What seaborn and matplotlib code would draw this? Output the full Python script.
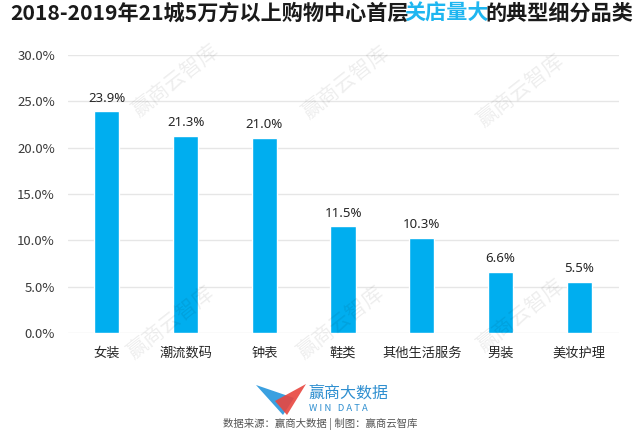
import matplotlib
matplotlib.use("Agg")
import matplotlib.pyplot as plt
import seaborn as sns
import pandas as pd
from matplotlib.patches import Polygon

categories = ["女装", "潮流数码", "钟表", "鞋类", "其他生活服务", "男装", "美妆护理"]
values = [23.9, 21.3, 21.0, 11.5, 10.3, 6.6, 5.5]
yticks = [0, 5, 10, 15, 20, 25, 30]
ytick_labels = ["0.0%", "5.0%", "10.0%", "15.0%", "20.0%", "25.0%", "30.0%"]
title_parts = ["2018-2019年21城5万方以上购物中心首层", "关店量大", "的典型细分品类"]
source_text = "数据来源：赢商大数据 | 制图：赢商云智库"

sns.set_theme(style="white")
plt.rcParams["font.family"] = ["Noto Sans CJK SC", "DejaVu Sans"]

BLUE = "#00AEEF"
df = pd.DataFrame({"cat": categories, "val": values})

fig = plt.figure(figsize=(6.4, 4.36), dpi=100)
ax = fig.add_axes([0.1055, 0.236, 0.861, 0.638])
sns.barplot(data=df, x="cat", y="val", color=BLUE, saturation=1, width=0.32, ax=ax, zorder=3)

ax.set_ylim(0, 30)
ax.set_yticks(yticks)
ax.set_yticklabels(ytick_labels, fontsize=9.5, color="#3a3a3a")
ax.tick_params(axis="y", length=0, pad=9)
ax.tick_params(axis="x", length=0, pad=10, labelsize=9.5, labelcolor="#262626")
ax.set_xlabel("")
ax.set_ylabel("")
ax.grid(axis="y", color="#E6E6E6", linewidth=1, zorder=0)
ax.set_axisbelow(True)
for s in ax.spines.values():
    s.set_visible(False)

for i, v in enumerate(values):
    ax.annotate(f"{v:.1f}%", (i, v), xytext=(0, 5), textcoords="offset points",
                ha="center", va="bottom", fontsize=9.5, color="#262626", zorder=5,
                family=["Noto Sans", "DejaVu Sans"])

# watermarks
for (x, y) in [(175, 80), (345, 82), (520, 90), (170, 322), (340, 322), (520, 315)]:
    fig.text(x / 640, 1 - y / 436, "赢商云智库", rotation=38, ha="center", va="center",
             fontsize=15, color="#000000", alpha=0.07, zorder=10)

# title with coloured part
fig.canvas.draw()
renderer = fig.canvas.get_renderer()
colors = ["#1a1a1a", "#1FB6F0", "#1a1a1a"]
texts = []
for part, c in zip(title_parts, colors):
    t = fig.text(0, 1 - 13 / 436, part, fontsize=15.2, fontweight="bold", color=c,
                 ha="left", va="center")
    texts.append(t)
widths = [t.get_window_extent(renderer).width - 3.5 for t in texts]
total = sum(widths)
x0 = (640 - total) / 2
for t, w in zip(texts, widths):
    t.set_x(x0 / 640)
    x0 += w

# logo
H = 436
def fy(y):
    return 1 - y / H
blue_tri = Polygon([(256 / 640, fy(385)), (294 / 640, fy(398)), (283 / 640, fy(415))],
                   closed=True, transform=fig.transFigure, facecolor="#3AA0E0", edgecolor="none")
red_tri = Polygon([(275 / 640, fy(401)), (306 / 640, fy(384)), (287 / 640, fy(415))],
                  closed=True, transform=fig.transFigure, facecolor="#E8463F", edgecolor="none", alpha=0.9)
fig.patches.extend([blue_tri, red_tri])
fig.text(308 / 640, fy(393), "赢商大数据", fontsize=11.5, color="#2F8FD0", ha="left", va="center")
fig.text(309 / 640, fy(408), "W I N   D A T A", fontsize=6.8, color="#2F8FD0", ha="left", va="center")
fig.text(320 / 640, fy(424), source_text, fontsize=7.5, color="#555555", ha="center", va="center")

fig.savefig("out.png", dpi=100, facecolor="white")
